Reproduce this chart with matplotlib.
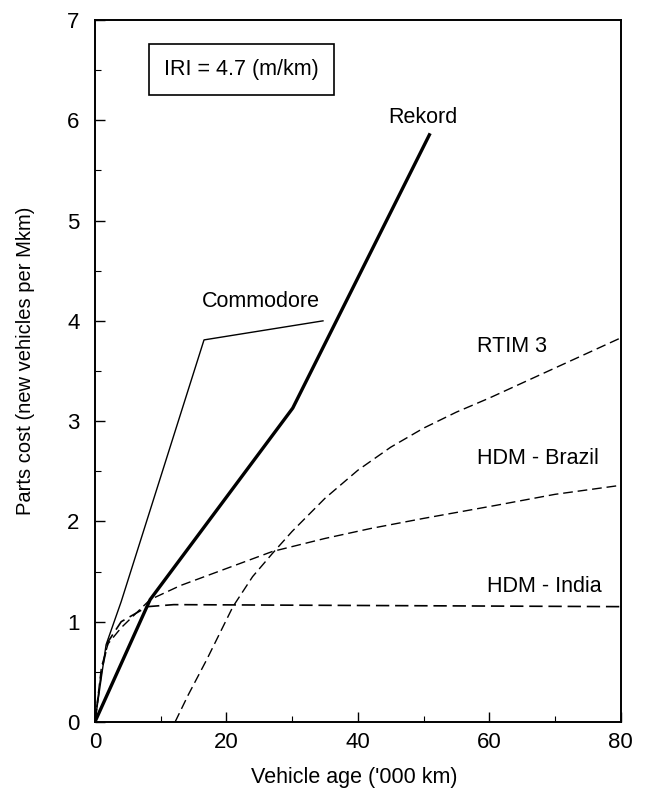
import matplotlib
matplotlib.use("Agg")
import matplotlib.pyplot as plt
from matplotlib.ticker import MultipleLocator

plt.rcParams['font.family'] = ['Liberation Sans', 'DejaVu Sans']

# Data (vehicle age '000 km, parts cost new vehicles per Mkm)
rekord_x = [0, 8.4, 30.1, 51.0]
rekord_y = [0, 1.22, 3.13, 5.87]

commodore_x = [0, 1.7, 4.0, 16.6, 34.7]
commodore_y = [0, 0.77, 1.2, 3.81, 4.0]

rtim_x = [12.2, 14.2, 17, 21, 24, 27, 30, 35, 40, 45, 50, 55, 60, 70, 80]
rtim_y = [0, 0.27, 0.62, 1.15, 1.45, 1.68, 1.9, 2.23, 2.51, 2.74, 2.93, 3.09, 3.23, 3.53, 3.83]

brazil_x = [0, 1, 2, 4, 8.4, 13, 20, 27, 35, 42, 50, 61, 70, 80]
brazil_y = [0, 0.55, 0.78, 0.94, 1.22, 1.36, 1.53, 1.70, 1.83, 1.93, 2.03, 2.16, 2.27, 2.36]

india_x = [0, 1, 2, 4, 8, 12, 80]
india_y = [0, 0.5, 0.8, 1.0, 1.15, 1.17, 1.15]

fig = plt.figure(figsize=(6.5, 7.88), dpi=100)
ax = fig.add_axes([0.146, 0.0838, 0.809, 0.8908])

ax.plot(rekord_x, rekord_y, color='black', lw=2.4, solid_capstyle='butt')
ax.plot(commodore_x, commodore_y, color='black', lw=1.0)
ax.plot(rtim_x, rtim_y, color='black', lw=1.0, dashes=(7, 3.5))
ax.plot(brazil_x, brazil_y, color='black', lw=1.0, dashes=(7, 3.5))
ax.plot(india_x, india_y, color='black', lw=1.2, dashes=(8, 3.5))

lab_fs = 15.5
ax.text(49.9, 6.03, 'Rekord', ha='center', va='center', fontsize=lab_fs)
ax.text(25.2, 4.19, 'Commodore', ha='center', va='center', fontsize=lab_fs)
ax.text(63.4, 3.74, 'RTIM 3', ha='center', va='center', fontsize=lab_fs)
ax.text(67.4, 2.63, 'HDM - Brazil', ha='center', va='center', fontsize=lab_fs)
ax.text(68.4, 1.35, 'HDM - India', ha='center', va='center', fontsize=lab_fs)

ax.text(22.3, 6.505, 'IRI = 4.7 (m/km)', ha='center', va='center', fontsize=lab_fs,
        bbox=dict(boxstyle='square,pad=0.7', facecolor='white', edgecolor='black', lw=1.2))

ax.set_xlim(0, 80)
ax.set_ylim(0, 7)
ax.xaxis.set_major_locator(MultipleLocator(20))
ax.xaxis.set_minor_locator(MultipleLocator(10))
ax.yaxis.set_major_locator(MultipleLocator(1))
ax.yaxis.set_minor_locator(MultipleLocator(0.5))
ax.tick_params(which='major', direction='in', length=7, width=1.0, labelsize=16)
ax.tick_params(axis='y', which='major', pad=11)
ax.tick_params(axis='x', which='major', pad=7)
ax.tick_params(which='minor', direction='in', length=4, width=0.8)
for s in ax.spines.values():
    s.set_linewidth(1.4)

ax.set_xlabel("Vehicle age ('000 km)", fontsize=15.5)
ax.set_ylabel("Parts cost (new vehicles per Mkm)", fontsize=14.5)
ax.xaxis.set_label_coords(0.494, -0.064)
ax.yaxis.set_label_coords(-0.114, 0.514)

fig.savefig('out.png', dpi=100)
